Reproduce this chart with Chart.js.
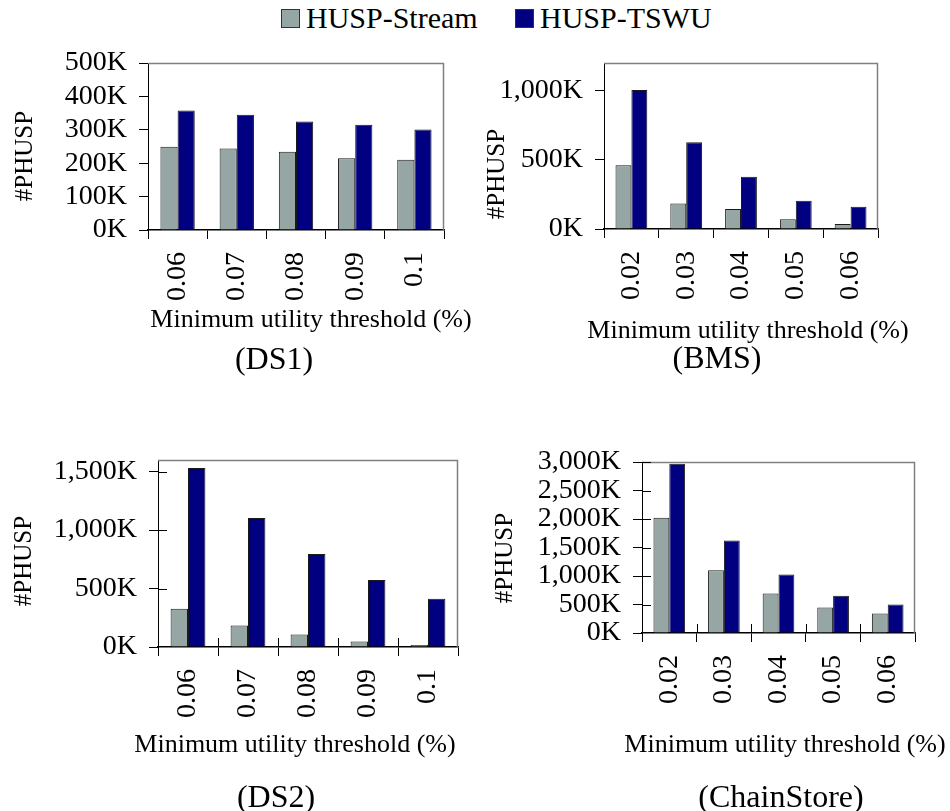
<!DOCTYPE html>
<html>
<head>
<meta charset="utf-8">
<script src="https://cdn.jsdelivr.net/npm/chart.js@4.4.1/dist/chart.umd.min.js"></script>
<style>
  html, body { margin: 0; padding: 0; background: #fff; }
  #page { position: relative; width: 950px; height: 811px; overflow: hidden;
          font-family: "Liberation Serif", "Times New Roman", serif; }
  #page canvas { position: absolute; }
  .key { position: absolute; top: 9px; width: 19px; height: 19px; box-sizing: border-box; border: 1px solid #333; }
  .keyText { position: absolute; top: 3px; font-size: 30px; line-height: 30px; color: #000; white-space: nowrap; }
</style>
</head>
<body>
<div id="page">
  <div id="legend"></div>
  <canvas id="cDS1" width="475" height="360" style="left:0px;top:40px"></canvas>
  <canvas id="cBMS" width="475" height="360" style="left:475px;top:40px"></canvas>
  <canvas id="cDS2" width="475" height="411" style="left:0px;top:400px"></canvas>
  <canvas id="cChain" width="475" height="411" style="left:475px;top:400px"></canvas>
</div>
<script>
// Series names and colours
const seriesNames = ['HUSP-Stream', 'HUSP-TSWU'];
const seriesColors = ['#96A6A5', '#000080'];

// DS1 (values in thousands)
const ds1Thresholds = ['0.06', '0.07', '0.08', '0.09', '0.1'];
const ds1Stream = [249, 244, 234, 215, 210];
const ds1Tswu = [358, 345, 325, 315, 301];
const ds1Ticks = [0, 100, 200, 300, 400, 500];

// BMS
const bmsThresholds = ['0.02', '0.03', '0.04', '0.05', '0.06'];
const bmsStream = [461, 185, 144, 70, 36];
const bmsTswu = [1005, 627, 377, 204, 161];
const bmsTicks = [0, 500, 1000];

// DS2
const ds2Thresholds = ['0.06', '0.07', '0.08', '0.09', '0.1'];
const ds2Stream = [328, 185, 108, 46, 17];
const ds2Tswu = [1531, 1103, 796, 573, 413];
const ds2Ticks = [0, 500, 1000, 1500];

// ChainStore
const chainThresholds = ['0.02', '0.03', '0.04', '0.05', '0.06'];
const chainStream = [2024, 1103, 694, 449, 344];
const chainTswu = [2970, 1622, 1027, 653, 502];
const chainTicks = [0, 500, 1000, 1500, 2000, 2500, 3000];

const xTitleText = 'Minimum utility threshold (%)';
const yTitleText = '#PHUSP';

const FONT = '"Liberation Serif", "Times New Roman", serif';
Chart.defaults.font.family = FONT;
Chart.defaults.color = '#000';

// shared legend above the panels
(function buildLegend() {
  const lg = document.getElementById('legend');
  const keyLeft = [281, 515];
  seriesNames.forEach((name, i) => {
    const sw = document.createElement('div');
    sw.className = 'key';
    sw.style.left = keyLeft[i] + 'px';
    sw.style.background = seriesColors[i];
    lg.appendChild(sw);
    const tx = document.createElement('div');
    tx.className = 'keyText';
    tx.style.left = (keyLeft[i] + 25) + 'px';
    tx.textContent = name;
    lg.appendChild(tx);
  });
})();

// frame, crossing tick marks, axis titles and panel caption
const panelDecor = {
  id: 'panelDecor',
  afterDraw(chart, args, o) {
    const ctx = chart.ctx, a = chart.chartArea;
    ctx.save();
    ctx.strokeStyle = '#808080';
    ctx.lineWidth = 1.5;
    ctx.beginPath();
    ctx.moveTo(a.left, a.top + 0.5); ctx.lineTo(a.right, a.top + 0.5);
    ctx.moveTo(a.right - 0.5, a.top); ctx.lineTo(a.right - 0.5, a.bottom);
    ctx.stroke();

    if (o.crossTicks) {
      const xs = chart.scales.x, ys = chart.scales.y;
      const n = xs.ticks.length, step = (xs.right - xs.left) / n;
      ctx.strokeStyle = '#000';
      ctx.lineWidth = 1;
      ctx.beginPath();
      for (let i = 1; i < n; i++) {
        const px = Math.round(xs.left + i * step) + 0.5;
        ctx.moveTo(px, a.bottom); ctx.lineTo(px, a.bottom - 9);
      }
      ys.ticks.forEach(t => {
        if (t.value === 0) return;
        const py = Math.round(ys.getPixelForValue(t.value)) + 0.5;
        ctx.moveTo(a.left, py); ctx.lineTo(a.left + 9, py);
      });
      ctx.stroke();
    }

    ctx.fillStyle = '#000';
    ctx.textAlign = 'center';
    ctx.textBaseline = 'alphabetic';
    ctx.font = '26px ' + FONT;
    ctx.fillText(xTitleText, o.xTitle.x, o.xTitle.y);
    ctx.font = '32px ' + FONT;
    ctx.fillText(o.caption, o.captionAt.x, o.captionAt.y);

    ctx.translate(o.yTitle.x, o.yTitle.y);
    ctx.rotate(-Math.PI / 2);
    ctx.textBaseline = 'middle';
    ctx.font = '25px ' + FONT;
    ctx.fillText(yTitleText, 0, 0);
    ctx.restore();
  }
};

function fmtK(v) {
  return v.toLocaleString('en-US') + 'K';
}

function makePanel(id, p) {
  const tickFont = { family: FONT, size: 28 };
  new Chart(document.getElementById(id), {
    type: 'bar',
    data: {
      labels: p.labels,
      datasets: [
        { label: seriesNames[0], data: p.stream, backgroundColor: seriesColors[0],
          borderColor: '#1a1a1a', borderWidth: 1 },
        { label: seriesNames[1], data: p.tswu, backgroundColor: seriesColors[1],
          borderColor: '#1a1a1a', borderWidth: 1 }
      ]
    },
    options: {
      responsive: false,
      animation: false,
      devicePixelRatio: 1,
      layout: { padding: { left: 0, right: p.padRight, top: p.padTop, bottom: p.padBottom } },
      datasets: { bar: { categoryPercentage: 0.58, barPercentage: 1 } },
      plugins: {
        legend: { display: false },
        tooltip: { enabled: false },
        panelDecor: {
          crossTicks: p.crossTicks,
          caption: p.caption,
          captionAt: p.captionAt,
          xTitle: p.xTitle,
          yTitle: p.yTitle
        }
      },
      scales: {
        x: {
          grid: { offset: true, drawOnChartArea: false, tickLength: 9, color: '#000', lineWidth: 1 },
          border: { color: '#000', width: 1.5 },
          ticks: { minRotation: 90, maxRotation: 90, autoSkip: false, padding: 13, color: '#000', font: tickFont },
          afterFit: s => { s.height = 100; s.paddingLeft = 0; s.paddingRight = 0; }
        },
        y: {
          min: 0,
          max: p.max,
          grid: { drawOnChartArea: false, tickLength: 9, color: '#000', lineWidth: 1 },
          border: { color: '#000', width: 1 },
          ticks: { padding: 12, autoSkip: false, color: '#000', font: tickFont, callback: v => fmtK(v) },
          afterBuildTicks: s => { s.ticks = p.ticks.map(v => ({ value: v })); },
          afterFit: s => { s.width = p.yWidth; s.paddingTop = 0; s.paddingBottom = 0; }
        }
      }
    },
    plugins: [panelDecor]
  });
}

makePanel('cDS1', {
  labels: ds1Thresholds, stream: ds1Stream, tswu: ds1Tswu, ticks: ds1Ticks, max: 500,
  yWidth: 148, padRight: 31, padTop: 23, padBottom: 70, crossTicks: false,
  caption: '(DS1)', captionAt: { x: 274, y: 329 },
  xTitle: { x: 311, y: 287 }, yTitle: { x: 25, y: 116 }
});

makePanel('cBMS', {
  labels: bmsThresholds, stream: bmsStream, tswu: bmsTswu, ticks: bmsTicks, max: 1200,
  yWidth: 129, padRight: 72, padTop: 23, padBottom: 71, crossTicks: false,
  caption: '(BMS)', captionAt: { x: 242, y: 328 },
  xTitle: { x: 273, y: 298 }, yTitle: { x: 22, y: 134 }
});

makePanel('cDS2', {
  labels: ds2Thresholds, stream: ds2Stream, tswu: ds2Tswu, ticks: ds2Ticks, max: 1600,
  yWidth: 158, padRight: 17, padTop: 60, padBottom: 64, crossTicks: true,
  caption: '(DS2)', captionAt: { x: 276, y: 407 },
  xTitle: { x: 295, y: 352 }, yTitle: { x: 24, y: 161 }
});

makePanel('cChain', {
  labels: chainThresholds, stream: chainStream, tswu: chainTswu, ticks: chainTicks, max: 3000,
  yWidth: 167, padRight: 35, padTop: 62, padBottom: 78, crossTicks: true,
  caption: '(ChainStore)', captionAt: { x: 306, y: 407 },
  xTitle: { x: 310, y: 352 }, yTitle: { x: 30, y: 158 }
});
</script>
</body>
</html>
